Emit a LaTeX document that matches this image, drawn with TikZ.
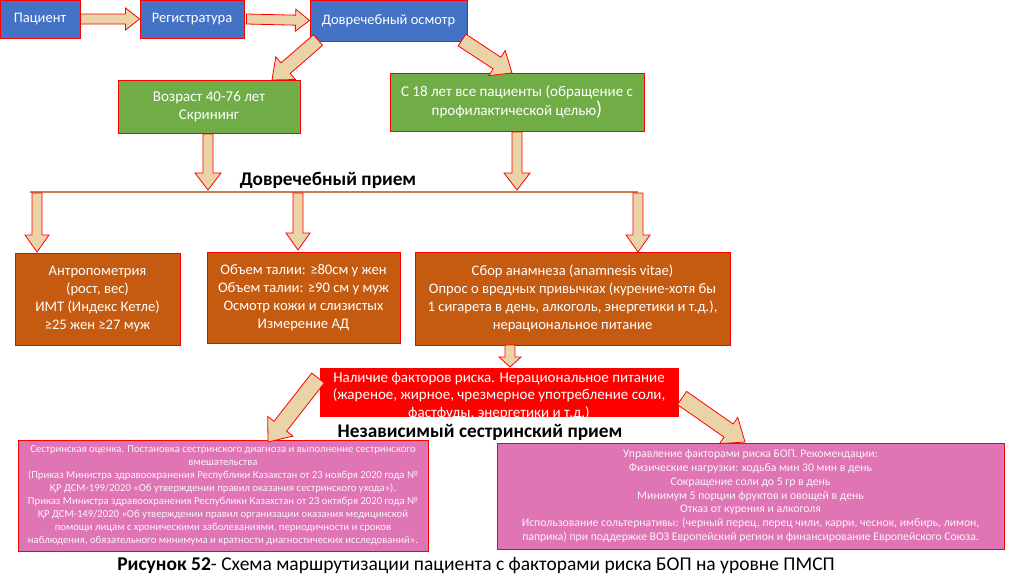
\documentclass[tikz,border=0pt]{standalone}
\usepackage{fontspec}
\setmainfont{Carlito}
\usetikzlibrary{calc}
\definecolor{cblue}{HTML}{4472C4}
\definecolor{cgreen}{HTML}{70AD47}
\definecolor{corange}{HTML}{C55A11}
\definecolor{cred}{HTML}{FF0000}
\definecolor{cpink}{HTML}{DF75B5}
\definecolor{ctan}{HTML}{EBD3A8}
\definecolor{cline}{HTML}{C97C4E}
\tikzset{
  box/.style={draw=cred, line width=0.9pt, text=white, align=center, inner sep=0pt},
  bluebox/.style={box, fill=cblue, font=\fontsize{14.5}{17}\selectfont},
  greenbox/.style={box, fill=cgreen, font=\fontsize{15}{18.5}\selectfont},
  orangebox/.style={box, fill=corange, font=\fontsize{14.6}{18}\selectfont},
  redbox/.style={box, fill=cred},
  pinkbox/.style={box, fill=cpink, text=white!92!cpink},
  heading/.style={font=\fontsize{19.3}{22}\selectfont\bfseries, inner sep=0pt},
  barrowst/.style={draw=cred, line width=0.8pt, fill=ctan, line join=miter},
}
% block arrow: #1 tail, #2 tip, #3 shaft half width, #4 head half width, #5 head length
\newcommand\blockarr[5]{%
  \draw[barrowst] let \p1=(#1), \p2=(#2),
      \n1={atan2(\y2-\y1,\x2-\x1)}, \n2={veclen(\x2-\x1,\y2-\y1)} in
    ($(\p1)+(\n1+90:#3pt)$)
    -- ($(\p1)+(\n1:\n2-#5pt)+(\n1+90:#3pt)$)
    -- ($(\p1)+(\n1:\n2-#5pt)+(\n1+90:#4pt)$)
    -- (\p2)
    -- ($(\p1)+(\n1:\n2-#5pt)+(\n1-90:#4pt)$)
    -- ($(\p1)+(\n1:\n2-#5pt)+(\n1-90:#3pt)$)
    -- ($(\p1)+(\n1-90:#3pt)$) -- cycle;}
\begin{document}
\begin{tikzpicture}[x=1pt, y=-1pt]
\fill[white] (0,0) rectangle (1024,574);
\useasboundingbox (0,0) rectangle (1024,574);

% top row
\node[bluebox, minimum width=80, minimum height=38] (pac) at (40,19) {Пациент};
\node[bluebox, minimum width=104, minimum height=38] (reg) at (192,19) {Регистратура};
\node[bluebox, minimum width=157, minimum height=41] (dov) at (388.5,20.5) {Довречебный осмотр};

% green boxes
\node[greenbox, minimum width=182, minimum height=53] (g1) at (209,106.5) {Возраст 40-76 лет\\Скрининг};
\node[greenbox, minimum width=254, minimum height=58] (g2) at (517,102)
  {\fontsize{15}{24}\selectfont С 18 лет все пациенты (обращение с\\профилактической целью{\fontsize{20}{24}\selectfont)}};

% heading 1
\node[heading] (h1) at (328,180) {Довречебный прием};

% orange boxes
\node[orangebox, minimum width=165, minimum height=92] (o1) at (97.5,299)
  {Антропометрия\\(рост, вес)\\ИМТ (Индекс Кетле)\\≥25 жен ≥27 муж};
\node[orangebox, minimum width=193, minimum height=91] (o2) at (303.5,297.5)
  {Объем талии: ≥80см у жен\\Объем талии: ≥90 см у муж\\Осмотр кожи и слизистых\\Измерение АД};
\node[orangebox, minimum width=315, minimum height=93] (o3) at (572.5,298.5)
  {Сбор анамнеза (anamnesis vitae)\\Опрос о вредных привычках (курение-хотя бы\\1 сигарета в день, алкоголь, энергетики и т.д.),\\нерациональное питание};

% red box
\node[redbox, minimum width=358, minimum height=48] (r1) at (499,392) {};
\node[text=white, align=center, inner sep=0pt, font=\fontsize{15}{17.5}\selectfont] (r1t) at (499,396)
  {Наличие факторов риска. Нерациональное питание\\(жареное, жирное, чрезмерное употребление соли,\\фастфуды, энергетики и т.д.)};

% heading 2
\node[heading] (h2) at (480,432) {Независимый сестринский прием};

% pink boxes
\node[pinkbox, minimum width=410, minimum height=111, font=\fontsize{10.7}{13.1}\selectfont] (p1) at (223,495.5)
  {Сестринская оценка. Постановка сестринского диагноза и выполнение сестринского\\
   вмешательства\\
   (Приказ Министра здравоохранения Республики Казахстан от 23 ноября 2020 года №\\
   ҚР ДСМ-199/2020 «Об утверждении правил оказания сестринского ухода»).\\
   Приказ Министра здравоохранения Республики Казахстан от 23 октября 2020 года №\\
   ҚР ДСМ-149/2020 «Об утверждении правил организации оказания медицинской\\
   помощи лицам с хроническими заболеваниями, периодичности и сроков\\
   наблюдения, обязательного минимума и кратности диагностических исследований».};
\node[pinkbox, minimum width=507, minimum height=106, font=\fontsize{11.7}{13.7}\selectfont] (p2) at (750.5,496)
  {Управление факторами риска БОП. Рекомендации:\\
   Физические нагрузки: ходьба мин 30 мин в день\\
   Сокращение соли до 5 гр в день\\
   Минимум 5 порции фруктов и овощей в день\\
   Отказ от курения и алкоголя\\
   Использование сольтернативы: (черный перец, перец чили, карри, чеснок, имбирь, лимон,\\
   паприка) при поддержке ВОЗ Европейский регион и финансирование Европейского Союза.};

% caption
\node[font=\fontsize{19.5}{22}\selectfont, inner sep=0pt] (cap) at (476,566)
  {\textbf{Рисунок 52}- Схема маршрутизации пациента с факторами риска БОП на уровне ПМСП};

% coordinates for arrows
\coordinate (d1s) at (318,40);  \coordinate (d1e) at (272,80);
\coordinate (d2s) at (462,40);  \coordinate (d2e) at (512,73);
\coordinate (v1s) at (208,134); \coordinate (v1e) at (208,190);
\coordinate (v2s) at (517,132); \coordinate (v2e) at (517,190);
\coordinate (hl) at (30,192);   \coordinate (hr) at (638,192);
\coordinate (b1s) at (37,193);  \coordinate (b1e) at (37,252);
\coordinate (b2s) at (298,193); \coordinate (b2e) at (298,250);
\coordinate (b3s) at (638,193); \coordinate (b3e) at (638,252);
\coordinate (c1s) at (510,345); \coordinate (c1e) at (510,367);
\coordinate (e1s) at (318,378); \coordinate (e1e) at (268,442);
\coordinate (e2s) at (682,398); \coordinate (e2e) at (745,442);

% horizontal line
\draw[cline, line width=2pt] (hl) -- (hr);

% arrows
\blockarr{pac.east}{reg.west}{5}{11}{14}
\blockarr{$(reg.east)+(2,0)$}{dov.west}{5}{11}{14}
\blockarr{d1s}{d1e}{7}{15}{18}
\blockarr{d2s}{d2e}{7}{15}{18}
\blockarr{v1s}{v1e}{5}{13}{17}
\blockarr{v2s}{v2e}{5}{13}{17}
\blockarr{b1s}{b1e}{5}{12}{17}
\blockarr{b2s}{b2e}{5}{12}{17}
\blockarr{b3s}{b3e}{5}{12}{17}
\blockarr{c1s}{c1e}{5}{11}{10}
\blockarr{e1s}{e1e}{8}{16}{20}
\blockarr{e2s}{e2e}{8}{16}{20}
\end{tikzpicture}
\end{document}
